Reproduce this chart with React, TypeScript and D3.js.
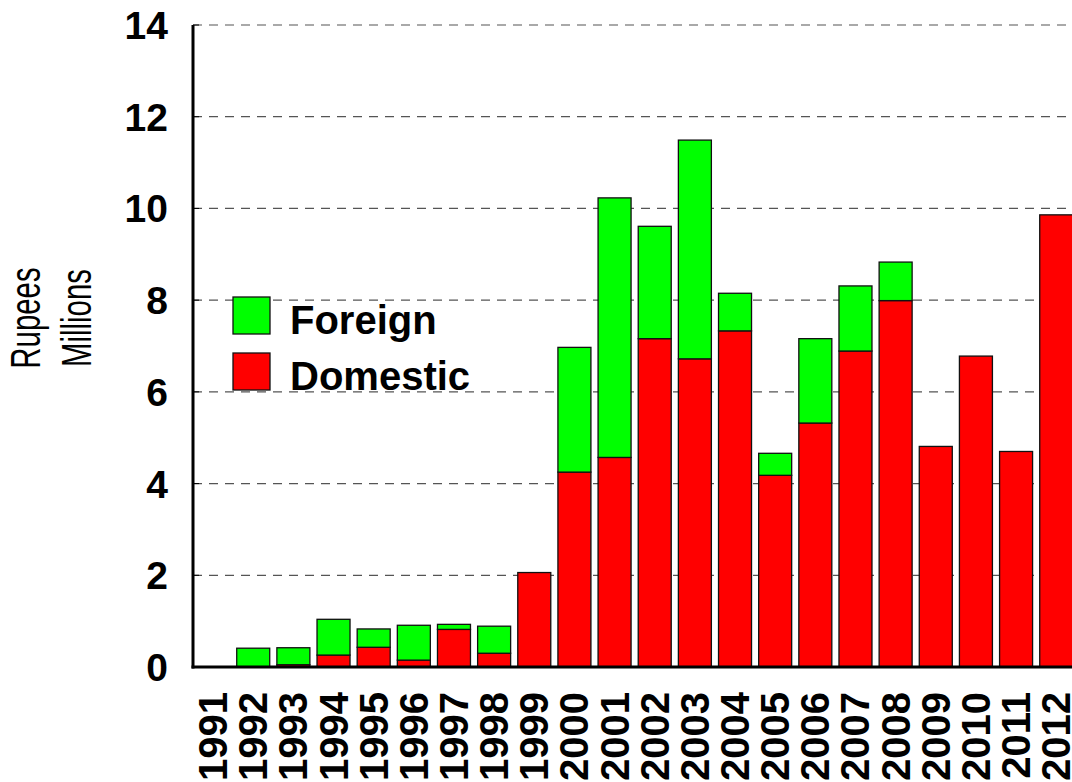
import React from 'react';
import * as d3 from 'd3';

// values in Rupees Millions
const years = ['1991', '1992', '1993', '1994', '1995', '1996', '1997', '1998', '1999', '2000', '2001',
    '2002', '2003', '2004', '2005', '2006', '2007', '2008', '2009', '2010', '2011', '2012'];
const domestic = [0, 0, 0.05, 0.26, 0.43, 0.15, 0.82, 0.3, 2.06, 4.25, 4.57,
    7.16, 6.72, 7.33, 4.18, 5.32, 6.89, 7.99, 4.81, 6.78, 4.7, 9.86];
const foreign = [0, 0.41, 0.37, 0.78, 0.4, 0.76, 0.11, 0.59, 0, 2.72, 5.66,
    2.45, 4.77, 0.82, 0.48, 1.84, 1.42, 0.84, 0, 0, 0, 0];
const yTicks = [0, 2, 4, 6, 8, 10, 12, 14];
const legendItems = [{label: 'Foreign', color: '#00ff00'}, {label: 'Domestic', color: '#ff0000'}];

const W = 1072;
const H = 782;
const FONT = "Arial, 'Liberation Sans', sans-serif";

export default function App() {
    const left = 193, top = 25, bottom = 667;
    const step = 40.15;

    const x = d3.scaleBand()
        .domain(years)
        .range([left, left + step * years.length])
        .paddingInner(0.178)
        .paddingOuter(0.089);
    const y = d3.scaleLinear().domain([0, 14]).range([bottom, top]);

    const rows = years.map((yr, i) => ({year: yr, domestic: domestic[i], foreign: foreign[i]}));
    const stacked = d3.stack<any>().keys(['domestic', 'foreign'])(rows);
    const colors: Record<string, string> = {domestic: '#ff0000', foreign: '#00ff00'};

    return (
        <svg width={W} height={H} style={{position: 'absolute', left: 0, top: 0}} fontFamily={FONT}>
            <rect width={W} height={H} fill="#fff"/>
            {/* grid lines */}
            {yTicks.filter(t => t > 0).map(t => (
                <line key={t} x1={left} x2={W} y1={y(t)} y2={y(t)}
                      stroke="#555" strokeWidth={1.2} strokeDasharray="9,7"/>
            ))}
            {/* bars */}
            {stacked.map(series => (
                <g key={series.key}>
                    {series.map((d, i) => d[1] - d[0] > 0 ? (
                        <rect key={i}
                              x={x(years[i])}
                              y={y(d[1])}
                              width={x.bandwidth()}
                              height={y(d[0]) - y(d[1])}
                              fill={colors[series.key]}
                              stroke="#111" strokeWidth={1.3}/>
                    ) : null)}
                </g>
            ))}
            {/* axes */}
            {yTicks.map(t => (
                <g key={t}>
                    <line x1={left} x2={left + 6} y1={y(t)} y2={y(t)} stroke="#000" strokeWidth={1}/>
                    <text x={168} y={y(t)} dy="0.36em" textAnchor="end" fontSize={39} fontWeight="bold">{t}</text>
                </g>
            ))}
            <line x1={left} x2={left} y1={top} y2={bottom + 1.5} stroke="#000" strokeWidth={3}/>
            <line x1={left - 1.5} x2={W} y1={bottom} y2={bottom} stroke="#000" strokeWidth={3}/>
            {years.map(yr => (
                <text key={yr}
                      transform={`translate(${x(yr)! + x.bandwidth() / 2 + 14},692) rotate(-90)`}
                      textAnchor="end" fontSize={40} fontWeight="bold">{yr}</text>
            ))}
            {/* axis title, condensed like the original */}
            <text transform="translate(40,318) rotate(-90) scale(0.7,1)" textAnchor="middle" fontSize={42}>Rupees</text>
            <text transform="translate(91,318) rotate(-90) scale(0.7,1)" textAnchor="middle" fontSize={42}>Millions</text>
            {/* legend */}
            {legendItems.map((it, i) => (
                <g key={it.label} transform={`translate(233,${297 + i * 56})`}>
                    <rect width={37} height={37} fill={it.color} stroke="#111" strokeWidth={1.3}/>
                    <text x={57} y={37} fontSize={40} fontWeight="bold">{it.label}</text>
                </g>
            ))}
        </svg>
    );
}
